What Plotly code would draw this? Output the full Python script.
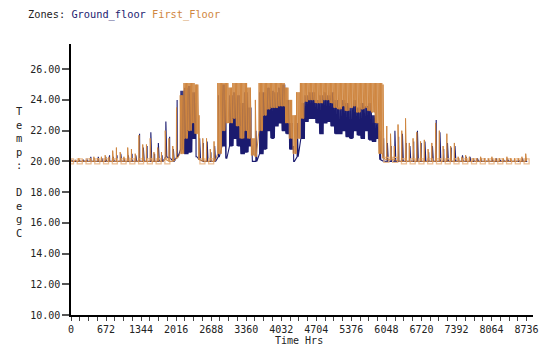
import plotly.graph_objects as go

# Sampled every 72 hours: envelope (high / low) of each zone's hourly temperature
step_hours = 72
first_hi = [20.1,20.1,20.2,20.1,20.1,20.2,20.3,20.2,20.3,20.4,20.3,20.7,20.9,20.6,20.3,20.9,20.8,20.5,21.7,21.1,
            21.1,21.5,20.6,20.9,20.6,22.0,21.5,21.0,23.5,24.3,25.1,25.1,25.1,25.0,23.0,21.5,21.5,20.8,21.3,25.1,
            25.1,25.1,24.8,25.1,25.1,25.1,25.1,24.8,21.5,24.0,25.1,25.1,25.1,25.1,25.1,25.1,25.1,24.8,24.0,23.0,
            24.5,25.1,25.1,25.1,25.1,25.1,25.1,25.1,25.1,25.1,25.1,25.1,25.1,25.1,25.1,25.1,25.1,25.1,25.1,25.1,
            25.1,25.1,25.1,25.0,22.3,21.8,21.0,22.4,22.0,22.8,21.2,21.5,21.9,21.3,21.4,20.8,21.2,22.5,22.0,21.0,
            21.8,21.0,21.2,20.3,20.3,20.4,20.3,20.2,20.2,20.3,20.2,20.2,20.3,20.2,20.2,20.2,20.3,20.2,20.2,20.2,
            20.3,20.5]
first_lo = [20.0,20.0,20.0,20.0,20.0,20.0,20.0,20.0,20.0,20.0,20.0,20.0,20.0,20.0,20.0,20.0,20.0,20.0,20.0,20.0,
            20.0,20.0,20.0,20.0,20.0,20.1,20.0,20.0,20.2,20.5,21.5,22.0,22.5,21.8,20.1,20.0,20.0,20.0,20.0,20.5,
            22.0,22.5,22.5,22.8,22.3,21.5,22.0,21.5,20.4,20.3,22.0,23.0,23.4,23.5,23.5,23.6,23.6,22.5,21.5,20.5,
            21.5,22.8,23.9,24.0,24.0,23.8,23.8,24.0,24.0,23.8,23.5,23.4,23.6,23.3,23.5,23.6,23.2,23.4,23.5,23.3,
            23.2,22.5,20.5,20.2,20.1,20.1,20.1,20.0,20.0,20.0,20.0,20.0,20.0,20.0,20.0,20.0,20.0,20.0,20.0,20.0,
            20.0,20.0,20.0,20.0,20.0,20.0,20.0,20.0,20.0,20.0,20.0,20.0,20.0,20.0,20.0,20.0,20.0,20.0,20.0,20.0,
            20.0,20.0]
ground_hi = [20.1,20.05,20.1,20.1,20.2,20.3,20.2,20.3,20.2,20.3,20.4,20.3,20.4,20.5,20.2,20.4,20.5,20.4,21.8,20.9,
             21.0,21.9,20.5,21.2,20.4,22.6,21.6,20.8,24.0,24.6,24.8,24.9,24.5,23.8,21.5,21.2,21.3,20.6,21.0,24.3,
             25.0,24.0,24.3,24.5,24.3,23.8,24.5,23.5,20.8,22.0,24.5,24.5,24.8,24.6,24.5,24.8,25.0,24.0,22.5,21.0,
             22.5,23.8,24.3,24.5,24.5,24.0,24.3,24.5,24.3,24.5,24.0,23.5,24.0,23.8,23.5,24.0,23.5,23.8,23.6,23.8,
             23.0,22.5,22.0,21.5,21.2,21.0,22.0,21.6,21.8,21.2,21.0,21.3,22.0,21.2,21.3,20.6,21.0,22.7,21.9,20.8,
             21.2,20.9,21.0,20.2,20.4,20.3,20.3,20.2,20.2,20.2,20.2,20.1,20.2,20.2,20.1,20.1,20.2,20.1,20.1,20.1,
             20.2,20.2]
ground_lo = [20.0,20.0,20.0,20.0,20.0,20.0,20.0,20.0,20.0,20.0,20.0,20.0,20.0,20.0,20.0,20.0,20.0,20.0,20.0,20.0,
             20.0,20.0,20.0,20.0,20.0,20.3,20.2,20.0,20.3,20.8,20.5,20.6,21.5,20.3,20.1,20.0,20.0,20.0,20.0,20.3,
             21.0,20.2,21.0,21.5,21.0,20.5,20.6,21.0,20.0,20.0,20.5,20.8,22.0,21.5,22.3,22.5,22.0,21.8,20.8,20.0,
             20.3,21.5,22.6,22.8,22.8,22.5,21.8,22.5,22.6,22.3,21.8,21.8,22.0,21.6,21.5,22.0,21.7,21.5,22.0,21.4,
             21.3,21.5,20.1,20.0,20.0,20.0,20.0,20.0,20.0,20.0,20.0,20.0,20.0,20.0,20.0,20.0,20.0,20.0,20.0,20.0,
             20.0,20.0,20.0,20.0,20.0,20.0,20.0,20.0,20.0,20.0,20.0,20.0,20.0,20.0,20.0,20.0,20.0,20.0,20.0,20.0,
             20.0,20.0]
x_tick_vals = [0, 672, 1344, 2016, 2688, 3360, 4032, 4704, 5376, 6048, 6720, 7392, 8064, 8736]
y_tick_vals = [10, 12, 14, 16, 18, 20, 22, 24, 26]

NAVY = "#1b1b6f"
ORANGE = "#cf8640"

def spikes(hi, lo, offset):
    # daily swings drawn as narrow spikes rising from each sample's low up to its high
    xs, ys = [], []
    for i, (h, l) in enumerate(zip(hi, lo)):
        t = i * step_hours
        n = 3 if l > 20.3 else 1
        for k in range(n):
            x0 = t + offset + k * 24
            xs += [x0, x0 + 3, x0 + 6, x0 + 20]
            ys += [l, h, l, l]
    return xs, ys

def weekly_markers(lo):
    xs, ys = [], []
    for k in range(0, 53):
        hr = k * 168
        idx = round(hr / step_hours)
        if idx < len(lo) and lo[idx] <= 20.1:
            xs.append(hr)
            ys.append(lo[idx])
    return xs, ys

fig = go.Figure()
gx, gy = spikes(ground_hi, ground_lo, 16)
fx, fy = spikes(first_hi, first_lo, 4)
fmx, fmy = weekly_markers(first_lo)

fig.add_trace(go.Scatter(x=gx, y=gy, mode="lines", line=dict(color=NAVY, width=1.1), hoverinfo="skip"))
fig.add_trace(go.Scatter(x=fmx, y=fmy, mode="markers",
                         marker=dict(symbol="square-open", size=5, color="#ebbd92", line=dict(width=1.3)),
                         hoverinfo="skip"))
fig.add_trace(go.Scatter(x=fx, y=fy, mode="lines", line=dict(color=ORANGE, width=1.0), hoverinfo="skip"))

mono = "DejaVu Sans Mono"
fig.update_layout(
    width=539, height=354,
    margin=dict(l=71, r=0, t=44, b=39),
    paper_bgcolor="white", plot_bgcolor="white",
    showlegend=False,
    font=dict(family=mono, size=10, color="#222222"),
    xaxis=dict(range=[0, 8859], tickvals=x_tick_vals, ticktext=[str(v) for v in x_tick_vals],
               showgrid=False, zeroline=False, showline=True, linecolor="black", linewidth=1.5,
               ticks="outside", ticklen=4, tickcolor="#444444", tickwidth=1,
               ticklabeloverflow="allow",
               minor=dict(dtick=168, tick0=0, ticks="outside", ticklen=4, tickcolor="#444444", showgrid=False),
               tickfont=dict(family=mono, size=10, color="#222222")),
    yaxis=dict(range=[10, 27.64], tickvals=y_tick_vals, ticktext=["%.2f" % v for v in y_tick_vals],
               showgrid=False, zeroline=False, showline=True, linecolor="black", linewidth=1.5,
               ticks="outside", ticklen=7, tickcolor="#555555", tickwidth=1.5,
               tickfont=dict(family=mono, size=10, color="#222222")),
)

fig.add_annotation(xref="paper", yref="paper", x=(302 - 71) / 468, y=-(340 - 315) / 271,
                   xanchor="center", yanchor="middle", showarrow=False,
                   text="Time Hrs", font=dict(family=mono, size=10, color="#222222"))
fig.add_annotation(xref="paper", yref="paper", x=-(71 - 19) / 468, y=(315 - 172) / 271,
                   xanchor="center", yanchor="middle", showarrow=False, align="center",
                   text="<br>".join(list("Temp:")) + "<br> <br>" + "<br>".join(list("DegC")),
                   font=dict(family=mono, size=10.4, color="#222222"))
fig.add_annotation(xref="paper", yref="paper", x=-(71 - 25) / 468, y=1 + (44 - 15) / 271,
                   xanchor="left", yanchor="middle", showarrow=False,
                   text="Zones: <span style='color:%s'>Ground_floor</span> <span style='color:%s'>First_Floor</span>" % (NAVY, ORANGE),
                   font=dict(family=mono, size=10.3, color="#222222"))

fig.write_html("out.html")
